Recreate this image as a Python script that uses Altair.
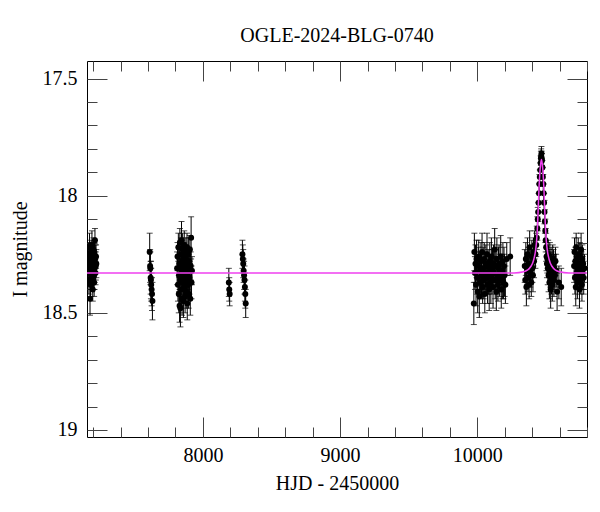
import altair as alt
import pandas as pd

# ---------------- data ----------------
hjd_a = [7165, 7167, 7169, 7171, 7173, 7175, 7177, 7179, 7181, 7183, 7185, 7187, 7189, 7191, 7193,
         7195, 7197, 7199, 7201, 7203, 7205, 7207, 7209, 7211, 7213, 7215, 7217, 7219, 7221, 7223]
mag_a = [18.30, 18.25, 18.36, 18.28, 18.22, 18.33, 18.44, 18.27, 18.38, 18.31, 18.24, 18.29, 18.35, 18.21, 18.32,
         18.26, 18.40, 18.30, 18.23, 18.34, 18.28, 18.37, 18.25, 18.31, 18.19, 18.27, 18.33, 18.30, 18.26, 18.29]
err_a = [0.06, 0.05, 0.06, 0.05, 0.06, 0.05, 0.07, 0.06, 0.05, 0.06, 0.05, 0.06, 0.05, 0.06, 0.05,
         0.06, 0.05, 0.06, 0.05, 0.06, 0.05, 0.06, 0.05, 0.06, 0.05, 0.06, 0.05, 0.06, 0.05, 0.06]

hjd_b = [7612, 7615, 7617, 7619, 7621, 7623, 7626, 7629, 7632]
mag_b = [18.24, 18.30, 18.31, 18.35, 18.36, 18.38, 18.40, 18.42, 18.45]
err_b = [0.08, 0.07, 0.07, 0.07, 0.08, 0.07, 0.07, 0.07, 0.08]

hjd_c = [7812, 7815, 7818, 7821, 7824, 7826, 7828, 7830, 7832, 7834, 7836, 7838, 7840, 7842, 7844,
         7846, 7848, 7850, 7852, 7854, 7856, 7858, 7860, 7862, 7864, 7866, 7868, 7870, 7872, 7874,
         7876, 7878, 7880, 7882, 7884, 7886, 7888, 7890, 7892, 7894, 7896, 7898, 7900, 7902, 7905,
         7908, 7911, 7914, 7917, 7920]
mag_c = [18.31, 18.26, 18.38, 18.22, 18.42, 18.34, 18.29, 18.47, 18.20, 18.36, 18.48, 18.31, 18.25, 18.40, 18.19,
         18.33, 18.44, 18.28, 18.23, 18.37, 18.30, 18.45, 18.26, 18.35, 18.21, 18.39, 18.32, 18.43, 18.27, 18.34,
         18.24, 18.41, 18.30, 18.36, 18.22, 18.46, 18.29, 18.33, 18.38, 18.25, 18.42, 18.31, 18.28, 18.35, 18.23,
         18.44, 18.30, 18.18, 18.37, 18.32]
err_c = [0.07, 0.06, 0.07, 0.06, 0.08, 0.07, 0.06, 0.07, 0.06, 0.07, 0.08, 0.06, 0.07, 0.07, 0.08,
         0.06, 0.07, 0.06, 0.07, 0.06, 0.07, 0.07, 0.06, 0.07, 0.06, 0.07, 0.06, 0.07, 0.06, 0.07,
         0.06, 0.07, 0.06, 0.07, 0.06, 0.07, 0.06, 0.07, 0.06, 0.07, 0.06, 0.07, 0.06, 0.07, 0.06,
         0.07, 0.06, 0.09, 0.07, 0.06]

hjd_d = [8189, 8192, 8195]
mag_d = [18.37, 18.40, 18.42]
err_d = [0.06, 0.05, 0.05]

hjd_e = [8288, 8291, 8294, 8297, 8300, 8303, 8306, 8309, 8312]
mag_e = [18.25, 18.27, 18.29, 18.32, 18.34, 18.36, 18.39, 18.42, 18.46]
err_e = [0.06, 0.06, 0.06, 0.05, 0.06, 0.06, 0.06, 0.06, 0.06]

hjd_f = [9975, 9979, 9983, 9987, 9991, 9995, 9999, 10003, 10007, 10011, 10015, 10019, 10023, 10027, 10031,
         10035, 10039, 10043, 10047, 10051, 10055, 10059, 10063, 10067, 10071, 10075, 10079, 10083, 10087, 10091,
         10095, 10099, 10103, 10107, 10111, 10115, 10119, 10123, 10127, 10131, 10135, 10139, 10143, 10147, 10151,
         10155, 10159, 10163, 10167, 10171, 10175, 10179, 10183, 10187, 10191, 10195, 10199, 10205, 10215, 10240]
mag_f = [18.46, 18.24, 18.33, 18.29, 18.38, 18.27, 18.35, 18.41, 18.30, 18.26, 18.43, 18.32, 18.37, 18.28, 18.34,
         18.24, 18.39, 18.31, 18.36, 18.27, 18.42, 18.33, 18.29, 18.35, 18.25, 18.38, 18.30, 18.34, 18.40, 18.28,
         18.32, 18.37, 18.26, 18.35, 18.31, 18.39, 18.29, 18.33, 18.23, 18.36, 18.30, 18.41, 18.27, 18.34, 18.38,
         18.31, 18.29, 18.36, 18.33, 18.26, 18.40, 18.32, 18.35, 18.28, 18.37, 18.30, 18.34, 18.38, 18.27, 18.26]
err_f = [0.09, 0.08, 0.07, 0.08, 0.09, 0.08, 0.07, 0.09, 0.08, 0.07, 0.09, 0.08, 0.07, 0.08, 0.09,
         0.08, 0.07, 0.09, 0.08, 0.07, 0.08, 0.09, 0.08, 0.07, 0.09, 0.08, 0.07, 0.08, 0.09, 0.08,
         0.07, 0.09, 0.08, 0.07, 0.08, 0.09, 0.08, 0.07, 0.09, 0.08, 0.07, 0.08, 0.09, 0.08, 0.07,
         0.09, 0.08, 0.07, 0.08, 0.09, 0.08, 0.07, 0.09, 0.08, 0.07, 0.08, 0.09, 0.08, 0.07, 0.08]

hjd_g = [10346, 10350, 10354, 10358, 10362, 10366, 10370, 10374, 10378, 10382,
         10386, 10390, 10394, 10398, 10402, 10406, 10410, 10414, 10418, 10424]
mag_g = [18.30, 18.36, 18.27, 18.39, 18.32, 18.25, 18.35, 18.29, 18.38, 18.22,
         18.33, 18.30, 18.37, 18.26, 18.31, 18.34, 18.24, 18.28, 18.21, 18.25]
err_g = [0.07, 0.06, 0.07, 0.08, 0.06, 0.07, 0.06, 0.07, 0.06, 0.07,
         0.06, 0.07, 0.06, 0.07, 0.06, 0.07, 0.06, 0.07, 0.06, 0.06]

hjd_h = [10430, 10434, 10438, 10441, 10444, 10447, 10450, 10453, 10456, 10459, 10462, 10464, 10466, 10468,
         10470, 10472, 10475, 10478, 10481, 10484, 10487, 10490, 10493, 10496, 10499, 10502, 10505, 10508]
mag_h = [18.21, 18.18, 18.14, 18.10, 18.07, 18.03, 17.99, 17.95, 17.92, 17.89, 17.86, 17.84, 17.83, 17.82,
         17.84, 17.85, 17.88, 17.92, 17.95, 17.99, 18.03, 18.07, 18.11, 18.15, 18.19, 18.22, 18.26, 18.29]
err_h = [0.05, 0.05, 0.05, 0.05, 0.04, 0.04, 0.04, 0.04, 0.03, 0.03, 0.03, 0.03, 0.03, 0.03,
         0.03, 0.03, 0.03, 0.04, 0.04, 0.04, 0.04, 0.05, 0.05, 0.05, 0.05, 0.06, 0.06, 0.06]

hjd_i = [10511, 10514, 10517, 10520, 10523, 10526, 10529, 10532, 10535, 10538, 10541, 10544,
         10547, 10550, 10553, 10556, 10559, 10562, 10566, 10570, 10575, 10582, 10595, 10612]
mag_i = [18.27, 18.31, 18.25, 18.34, 18.29, 18.37, 18.26, 18.32, 18.40, 18.28, 18.35, 18.30,
         18.38, 18.27, 18.33, 18.29, 18.36, 18.31, 18.34, 18.28, 18.32, 18.41, 18.37, 18.39]
err_i = [0.06, 0.07, 0.06, 0.07, 0.06, 0.07, 0.06, 0.07, 0.08, 0.06, 0.07, 0.06,
         0.07, 0.06, 0.07, 0.06, 0.07, 0.06, 0.07, 0.06, 0.07, 0.08, 0.07, 0.08]

hjd_j = [10706, 10709, 10712, 10715, 10718, 10721, 10724, 10727, 10730, 10733, 10736, 10739, 10742,
         10745, 10748, 10751, 10754, 10757, 10760, 10763, 10766, 10769, 10772, 10776, 10782]
mag_j = [18.30, 18.24, 18.35, 18.28, 18.39, 18.22, 18.33, 18.27, 18.37, 18.31, 18.25, 18.34, 18.29,
         18.40, 18.26, 18.32, 18.36, 18.23, 18.30, 18.38, 18.27, 18.33, 18.29, 18.35, 18.31]
err_j = [0.07, 0.06, 0.07, 0.06, 0.08, 0.06, 0.07, 0.06, 0.07, 0.06, 0.07, 0.06, 0.07,
         0.08, 0.06, 0.07, 0.06, 0.07, 0.06, 0.07, 0.06, 0.07, 0.06, 0.07, 0.06]

model_hjd = [7155, 10268, 10338, 10393, 10413, 10426, 10433, 10440, 10444, 10450, 10456, 10462, 10468,
             10474, 10480, 10486, 10492, 10496, 10503, 10510, 10523, 10543, 10598, 10668, 10800]
model_mag = [18.33, 18.33, 18.325, 18.30, 18.27, 18.23, 18.19, 18.12, 18.06, 17.97, 17.905, 17.865, 17.845,
             17.865, 17.905, 17.97, 18.06, 18.12, 18.19, 18.23, 18.27, 18.30, 18.325, 18.33, 18.33]

x_major = [8000, 9000, 10000]
x_minor = [7200, 7400, 7600, 7800, 8200, 8400, 8600, 8800, 9200, 9400, 9600, 9800,
           10200, 10400, 10600, 10800]
y_major = [17.5, 18.0, 18.5, 19.0]
y_minor = [17.6, 17.7, 17.8, 17.9, 18.1, 18.2, 18.3, 18.4, 18.6, 18.7, 18.8, 18.9]

# ---------------- tables ----------------
seasons = [(hjd_a, mag_a, err_a), (hjd_b, mag_b, err_b), (hjd_c, mag_c, err_c),
           (hjd_d, mag_d, err_d), (hjd_e, mag_e, err_e), (hjd_f, mag_f, err_f),
           (hjd_g, mag_g, err_g), (hjd_h, mag_h, err_h), (hjd_i, mag_i, err_i),
           (hjd_j, mag_j, err_j)]
frames = [pd.DataFrame({"hjd": h, "mag": m, "err": e}) for h, m, e in seasons]
df = pd.concat(frames, ignore_index=True)
df["lo"] = df["mag"] - df["err"]
df["hi"] = df["mag"] + df["err"]
model = pd.DataFrame({"hjd": model_hjd, "mag": model_mag})

W, H = 500, 376
FONT = "Liberation Serif"
TICKC = "#444444"

xs = alt.Scale(domain=[7155, 10800], nice=False, zero=False)
ys = alt.Scale(domain=[17.425, 19.03], reverse=True, nice=False, zero=False)


def tick_axis(orient, values, size, offset):
    return alt.Axis(orient=orient, values=values, tickSize=size, offset=offset,
                    labels=False, domain=False, grid=False, title="",
                    tickColor=TICKC, tickWidth=1)


x_label_axis = alt.Axis(orient="bottom", values=x_major, format="d", ticks=False,
                        domain=False, grid=False, labelFont=FONT, labelFontSize=20,
                        labelColor="black", labelPadding=8, labelFlush=False,
                        title="HJD - 2450000", titleFont=FONT, titleFontSize=20,
                        titleFontWeight="normal", titleColor="black", titlePadding=8)
y_label_axis = alt.Axis(orient="left", values=y_major, format="~g", ticks=False,
                        domain=False, grid=False, labelFont=FONT, labelFontSize=20,
                        labelColor="black", labelPadding=10,
                        title="I magnitude", titleFont=FONT, titleFontSize=20,
                        titleFontWeight="normal", titleColor="black", titlePadding=12)

base = alt.Chart(df)

bars = base.mark_rule(color="black", strokeWidth=1, clip=True).encode(
    x=alt.X("hjd:Q", scale=xs, axis=x_label_axis),
    y=alt.Y("lo:Q", scale=ys, axis=y_label_axis),
    y2="hi:Q",
)
caps_lo = base.mark_tick(orient="horizontal", size=6, thickness=1, color="black", clip=True).encode(
    x=alt.X("hjd:Q", scale=xs, axis=tick_axis("top", x_major, 20, -H)),
    y=alt.Y("lo:Q", scale=ys, axis=tick_axis("right", y_major, 20, -W)),
)
caps_hi = base.mark_tick(orient="horizontal", size=6, thickness=1, color="black", clip=True).encode(
    x=alt.X("hjd:Q", scale=xs, axis=tick_axis("top", x_minor, 10, -H)),
    y=alt.Y("hi:Q", scale=ys, axis=tick_axis("right", y_minor, 10, -W)),
)
points = base.mark_circle(color="black", size=36, opacity=1, clip=True).encode(
    x=alt.X("hjd:Q", scale=xs, axis=tick_axis("bottom", x_major, 20, -H)),
    y=alt.Y("mag:Q", scale=ys, axis=tick_axis("left", y_major, 20, -W)),
)
line = alt.Chart(model).mark_line(color="#f040f0", strokeWidth=1.5, interpolate="monotone", clip=True).encode(
    x=alt.X("hjd:Q", scale=xs, axis=tick_axis("bottom", x_minor, 10, -H)),
    y=alt.Y("mag:Q", scale=ys, axis=tick_axis("left", y_minor, 10, -W)),
)

chart = alt.layer(bars, caps_lo, caps_hi, points, line).resolve_axis(
    x="independent", y="independent"
).properties(
    width=W,
    height=H,
    title=alt.TitleParams("OGLE-2024-BLG-0740", font=FONT, fontSize=20, fontWeight="normal",
                          color="black", anchor="middle", offset=15),
    autosize=alt.AutoSizeParams(type="none"),
    padding={"left": 79, "top": 53, "right": 2, "bottom": 60},
    background="white",
).configure_view(stroke="black", strokeWidth=1)

chart.save("out.html", embed_options={"renderer": "svg", "actions": False})
